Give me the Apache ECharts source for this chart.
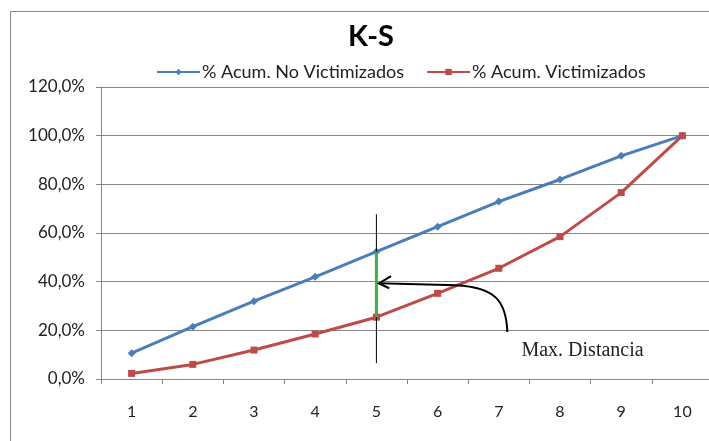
<!DOCTYPE html>
<html>
<head>
<meta charset="utf-8">
<script src="https://cdn.jsdelivr.net/npm/echarts@6/dist/echarts.min.js"></script>
<style>
  html, body { margin: 0; padding: 0; background: #fff; overflow: hidden; }
  #chart { width: 714px; height: 441px; }
</style>
</head>
<body>
<div id="chart"></div>
<script>
// Deciles 1..10 and cumulative percentages of each group
const categories = ['1', '2', '3', '4', '5', '6', '7', '8', '9', '10'];
const noVictimizados = [10.6, 21.5, 32.0, 42.0, 52.3, 62.6, 72.9, 82.0, 91.7, 100.0];
const victimizados = [2.3, 6.0, 11.9, 18.5, 25.4, 35.2, 45.5, 58.5, 76.6, 100.0];
const yTicks = { min: 0, max: 120, interval: 20 };

// Maximum distance marker at decile 5
const maxIdx = 4;
const cutLine = [67.7, 6.5];           // thin vertical reference line (y range)
const labelText = 'Max. Distancia';

const FONT = 'Lato';
const chart = echarts.init(document.getElementById('chart'));

const option = {
  backgroundColor: '#fff',
  animation: false,
  title: {
    text: 'K-S',
    left: 366, top: 17,
    textAlign: 'center',
    textStyle: { fontFamily: FONT, fontSize: 29, fontWeight: 'bold', color: '#000' }
  },
  legend: {
    left: 151, top: 58,
    itemWidth: 43, itemHeight: 8, itemGap: 22,
    textStyle: { fontFamily: FONT, fontSize: 18, color: '#222', padding: [0, 0, 0, -3] },
    data: ['% Acum. No Victimizados', '% Acum. Victimizados']
  },
  grid: { left: 101, top: 87, right: 1, bottom: 62, containLabel: false },
  xAxis: {
    type: 'category',
    data: categories,
    boundaryGap: true,
    axisLine: { lineStyle: { color: '#868686', width: 1 } },
    axisTick: { show: true, length: 5, inside: false, lineStyle: { color: '#868686' } },
    axisLabel: { fontFamily: FONT, fontSize: 16, color: '#222', margin: 25 }
  },
  yAxis: {
    type: 'value',
    min: yTicks.min, max: yTicks.max, interval: yTicks.interval,
    axisLine: { show: true, lineStyle: { color: '#868686', width: 1 } },
    axisTick: { show: true, length: 5, lineStyle: { color: '#868686' } },
    splitLine: { lineStyle: { color: '#868686', width: 1 } },
    axisLabel: {
      fontFamily: FONT, fontSize: 17, color: '#222', margin: 16,
      formatter: v => v.toFixed(1).replace('.', ',') + '%'
    }
  },
  series: [
    {
      name: '% Acum. No Victimizados',
      type: 'line',
      data: noVictimizados,
      symbol: 'diamond', symbolSize: 8,
      lineStyle: { color: '#4A7EBB', width: 3 },
      itemStyle: { color: '#4A7EBB' },
      z: 3
    },
    {
      name: '% Acum. Victimizados',
      type: 'line',
      data: victimizados,
      symbol: 'rect', symbolSize: 7,
      lineStyle: { color: '#BE4B48', width: 3 },
      itemStyle: { color: '#BE4B48' },
      z: 3
    },
    {
      name: 'corte',
      type: 'line',
      data: [[categories[maxIdx], cutLine[0]], [categories[maxIdx], cutLine[1]]],
      symbol: 'none',
      lineStyle: { color: '#000', width: 1 },
      z: 4, silent: true
    },
    {
      name: 'distancia',
      type: 'line',
      data: [[categories[maxIdx], noVictimizados[maxIdx]], [categories[maxIdx], victimizados[maxIdx]]],
      symbol: 'none',
      lineStyle: { color: '#3DB142', width: 3 },
      z: 5, silent: true
    }
  ]
};
chart.setOption(option);

// Convert (fractional category number, percent) into pixels
function toPx(cat, pct) {
  const a = chart.convertToPixel({ xAxisIndex: 0, yAxisIndex: 0 }, [0, pct]);
  const b = chart.convertToPixel({ xAxisIndex: 0, yAxisIndex: 0 }, [1, pct]);
  return [a[0] + (cat - 1) * (b[0] - a[0]), a[1]];
}

const tip = toPx(5.04, 39.3);
const s0 = toPx(7.14, 19.3);
const c1 = toPx(7.12, 32.0);
const c2 = toPx(6.95, 37.6);
const mid = toPx(6.3, 38.5);
const h1 = toPx(5.24, 42.3);
const h2 = toPx(5.21, 37.3);
const txt = toPx(7.37, 11.8);

chart.setOption({
  graphic: [
    {
      type: 'bezierCurve',
      shape: { x1: s0[0], y1: s0[1], cpx1: c1[0], cpy1: c1[1], cpx2: c2[0], cpy2: c2[1], x2: mid[0], y2: mid[1] },
      style: { stroke: '#000', lineWidth: 2, fill: null }, z: 10
    },
    {
      type: 'polyline',
      shape: { points: [mid, tip] },
      style: { stroke: '#000', lineWidth: 2, fill: null }, z: 10
    },
    {
      type: 'polyline',
      shape: { points: [h1, tip, h2] },
      style: { stroke: '#000', lineWidth: 2, fill: null }, z: 10
    },
    {
      type: 'text',
      x: txt[0], y: txt[1],
      style: {
        text: labelText, fill: '#222',
        font: '20px "Liberation Serif"',
        textVerticalAlign: 'middle'
      }, z: 10
    },
    {
      type: 'rect',
      shape: { x: 10.5, y: 11.5, width: 760, height: 480 },
      style: { stroke: '#868686', lineWidth: 1, fill: null }, z: -1, silent: true
    }
  ]
});
</script>
</body>
</html>
